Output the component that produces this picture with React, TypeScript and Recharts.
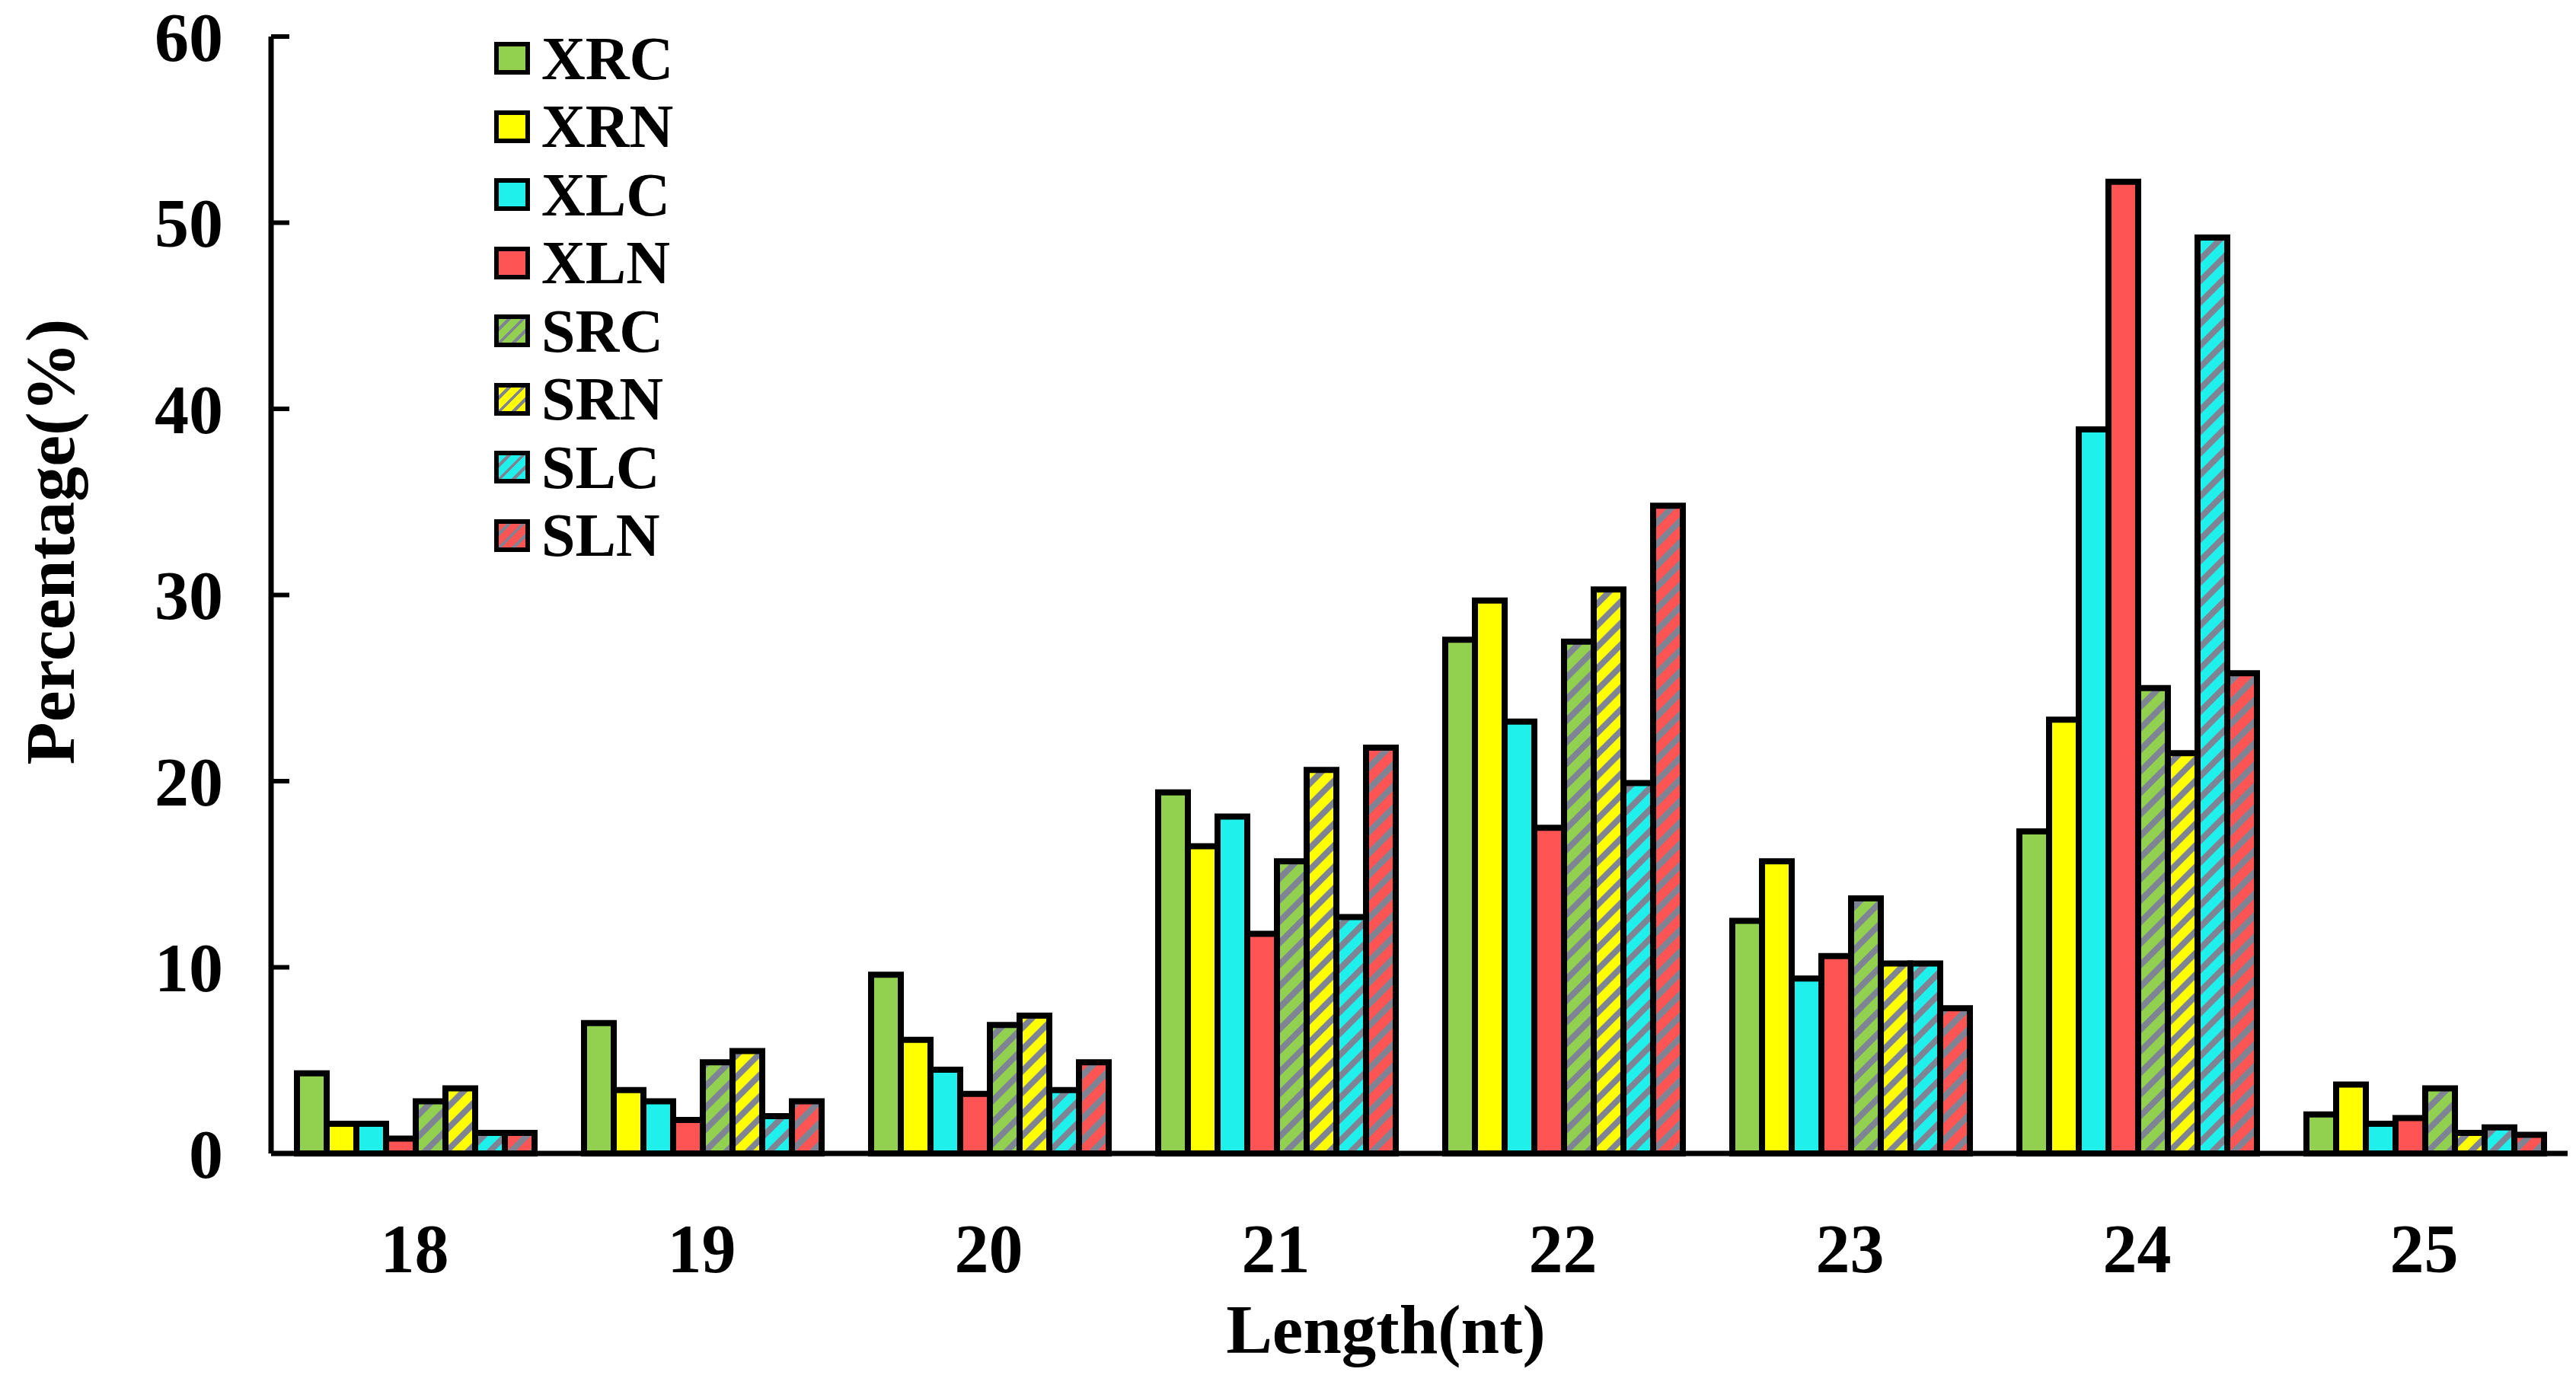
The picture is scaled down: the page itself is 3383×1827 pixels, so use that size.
import { BarChart, Bar, XAxis, YAxis, Legend, Label } from "recharts";

// small RNA length distribution, percentage of reads per library
const LENGTHS = ["18", "19", "20", "21", "22", "23", "24", "25"];

const XRC = [4.3, 7.0, 9.6, 19.4, 27.6, 12.5, 17.3, 2.1];
const XRN = [1.6, 3.4, 6.1, 16.5, 29.7, 15.7, 23.3, 3.7];
const XLC = [1.6, 2.8, 4.5, 18.1, 23.2, 9.4, 38.9, 1.6];
const XLN = [0.8, 1.8, 3.2, 11.8, 17.5, 10.6, 52.2, 1.9];
const SRC = [2.8, 4.9, 6.9, 15.7, 27.5, 13.7, 25.0, 3.5];
const SRN = [3.5, 5.5, 7.4, 20.6, 30.3, 10.2, 21.5, 1.1];
const SLC = [1.1, 2.0, 3.4, 12.7, 19.9, 10.2, 49.2, 1.4];
const SLN = [1.1, 2.8, 4.9, 21.8, 34.8, 7.8, 25.8, 1.0];

const Y_TICKS = [0, 10, 20, 30, 40, 50, 60];

const GREEN = "#92D050";
const YELLOW = "#FFFF00";
const CYAN = "#1FF0EC";
const RED = "#FF5454";
const STRIPE = "#7E8494";

const FONT = "'Liberation Serif', 'Times New Roman', serif";

const SERIES = [
  { key: "XRC", values: XRC, color: GREEN, striped: false },
  { key: "XRN", values: XRN, color: YELLOW, striped: false },
  { key: "XLC", values: XLC, color: CYAN, striped: false },
  { key: "XLN", values: XLN, color: RED, striped: false },
  { key: "SRC", values: SRC, color: GREEN, striped: true },
  { key: "SRN", values: SRN, color: YELLOW, striped: true },
  { key: "SLC", values: SLC, color: CYAN, striped: true },
  { key: "SLN", values: SLN, color: RED, striped: true },
];

const data = LENGTHS.map((len, i) => {
  const row: Record<string, string | number> = { length: len };
  SERIES.forEach((s) => {
    row[s.key] = s.values[i];
  });
  return row;
});

const fillOf = (s: (typeof SERIES)[number]) =>
  s.striped ? `url(#stripe-${s.key})` : s.color;

function LegendBox() {
  return (
    <div style={{ display: "flex", flexDirection: "column" }}>
      {SERIES.map((s) => (
        <div
          key={s.key}
          style={{ display: "flex", alignItems: "center", height: 89.5 }}
        >
          <span
            style={{
              boxSizing: "border-box",
              width: 47,
              height: 43,
              border: "6px solid #000",
              background: s.striped
                ? `repeating-linear-gradient(-45deg, ${s.color} 0 9px, ${STRIPE} 9px 13px)`
                : s.color,
            }}
          />
          <span
            style={{
              marginLeft: 15,
              fontFamily: FONT,
              fontWeight: 700,
              fontSize: 80,
              lineHeight: 1,
              color: "#000",
            }}
          >
            {s.key}
          </span>
        </div>
      ))}
    </div>
  );
}

const tickStyle = { fontSize: 90, fontFamily: FONT, fontWeight: 700, fill: "#000" };

export default function App() {
  return (
    <div style={{ position: "absolute", left: 0, top: 0, background: "#fff" }}>
      <BarChart
        width={3383}
        height={1827}
        data={data}
        margin={{ top: 48, right: 11, bottom: 0, left: 0 }}
        barCategoryGap={34}
        barGap={0}
      >
        <defs>
          {SERIES.filter((s) => s.striped).map((s) => (
            <pattern
              key={s.key}
              id={`stripe-${s.key}`}
              patternUnits="userSpaceOnUse"
              width={20}
              height={20}
              patternTransform="rotate(45)"
            >
              <rect width={20} height={20} fill={s.color} />
              <rect width={8} height={20} fill={STRIPE} />
            </pattern>
          ))}
        </defs>
        <XAxis
          dataKey="length"
          height={312}
          axisLine={{ stroke: "#000", strokeWidth: 7 }}
          tickLine={false}
          tickSize={0}
          tickMargin={92}
          tick={tickStyle}
        >
          <Label
            content={({ viewBox }: any) => (
              <text
                x={viewBox.x + viewBox.width / 2 - 44}
                y={viewBox.y + 262}
                textAnchor="middle"
                fontFamily={FONT}
                fontWeight={700}
                fontSize={91}
                fill="#000"
              >
                Length(nt)
              </text>
            )}
          />
        </XAxis>
        <YAxis
          width={356}
          domain={[0, 60]}
          ticks={Y_TICKS}
          interval={0}
          axisLine={{ stroke: "#000", strokeWidth: 7 }}
          tickLine={{ stroke: "#000", strokeWidth: 6 }}
          tickSize={-24}
          tickMargin={87}
          tick={tickStyle}
        >
          <Label
            content={({ viewBox }: any) => {
              const cx = viewBox.x + 66;
              const cy = viewBox.y + viewBox.height / 2 - 70;
              return (
                <text
                  x={cx}
                  y={cy}
                  transform={`rotate(-90 ${cx} ${cy})`}
                  textAnchor="middle"
                  dominantBaseline="central"
                  fontFamily={FONT}
                  fontWeight={700}
                  fontSize={92}
                  fill="#000"
                >
                  Percentage(%)
                </text>
              );
            }}
          />
        </YAxis>
        <Legend
          layout="vertical"
          align="center"
          verticalAlign="middle"
          content={() => <LegendBox />}
          wrapperStyle={{ left: 649, top: 32, width: "auto" }}
        />
        {SERIES.map((s) => (
          <Bar
            key={s.key}
            dataKey={s.key}
            name={s.key}
            fill={fillOf(s)}
            stroke="#000"
            strokeWidth={8}
            isAnimationActive={false}
          />
        ))}
      </BarChart>
    </div>
  );
}
